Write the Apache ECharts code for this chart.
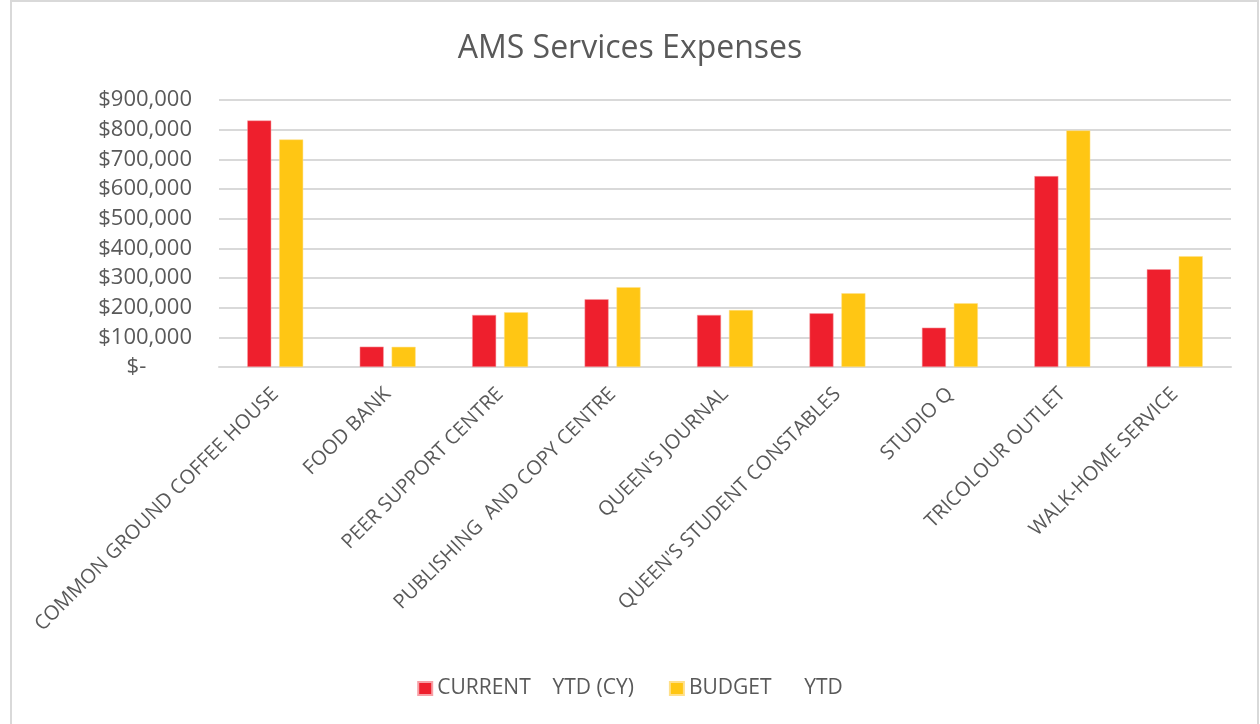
<!DOCTYPE html>
<html>
<head>
<meta charset="utf-8">
<script src="https://cdn.jsdelivr.net/npm/echarts@6/dist/echarts.min.js"></script>
<style>html,body{margin:0;padding:0;background:#fff;}#chart{width:1260px;height:724px;}</style>
</head>
<body>
<div id="chart"></div>
<script>
const categories = ["COMMON GROUND COFFEE HOUSE","FOOD BANK","PEER SUPPORT CENTRE","PUBLISHING  AND COPY CENTRE","QUEEN'S JOURNAL","QUEEN'S STUDENT CONSTABLES","STUDIO Q","TRICOLOUR OUTLET","WALK-HOME SERVICE"];
const currentYTD = [831000, 68500, 175500, 228500, 175500, 181000, 132500, 643500, 329500];
const budgetYTD = [767000, 68000, 184500, 269000, 192000, 248500, 215000, 797500, 373500];
const seriesNames = ["CURRENT    YTD (CY)", "BUDGET      YTD"];
const yTicks = [0, 100000, 200000, 300000, 400000, 500000, 600000, 700000, 800000, 900000];

const FONT = "'Open Sans', Lato, sans-serif";
const TXT = '#595959';
const chart = echarts.init(document.getElementById('chart'), null, {renderer: 'canvas'});
chart.setOption({
  backgroundColor: '#fff',
  animation: false,
  graphic: [{
    type: 'rect', shape: {x: 11, y: 1, width: 1247, height: 740},
    style: {fill: 'none', stroke: '#d9d9d9', lineWidth: 2}, silent: true, z: -1
  }],
  title: {
    text: 'AMS Services Expenses', left: 'center', top: 28,
    textStyle: {fontFamily: FONT, fontSize: 32, fontWeight: 'normal', color: TXT}
  },
  legend: {
    bottom: 20, left: 'center', itemWidth: 14, itemHeight: 13, itemGap: 35,
    icon: 'rect',
    textStyle: {fontFamily: FONT, fontSize: 21, color: TXT}
  },
  grid: {left: 219, right: 29, top: 100, bottom: 357, containLabel: false},
  xAxis: {
    type: 'category', data: categories,
    axisTick: {show: false},
    axisLine: {lineStyle: {color: '#d9d9d9', width: 2}},
    axisLabel: {rotate: 45, interval: 0, fontFamily: FONT, fontSize: 20, color: TXT, margin: 24}
  },
  yAxis: {
    type: 'value', min: 0, max: 900000, interval: 100000,
    axisLine: {show: false}, axisTick: {show: false},
    splitLine: {lineStyle: {color: '#d9d9d9', width: 2}},
    axisLabel: {
      fontFamily: FONT, fontSize: 22, color: TXT, margin: 27,
      formatter: v => v === 0 ? '$-        ' : '$' + v.toLocaleString('en-US')
    }
  },
  series: [
    {name: seriesNames[0], type: 'bar', data: currentYTD, barWidth: 24, barGap: '33%',
     itemStyle: {color: '#EE1F2D', borderColor: '#f7a0a6', borderWidth: 0.5}},
    {name: seriesNames[1], type: 'bar', data: budgetYTD, barWidth: 24,
     itemStyle: {color: '#FFC614', borderColor: '#ffe08a', borderWidth: 0.5}}
  ]
});
</script>
</body>
</html>
